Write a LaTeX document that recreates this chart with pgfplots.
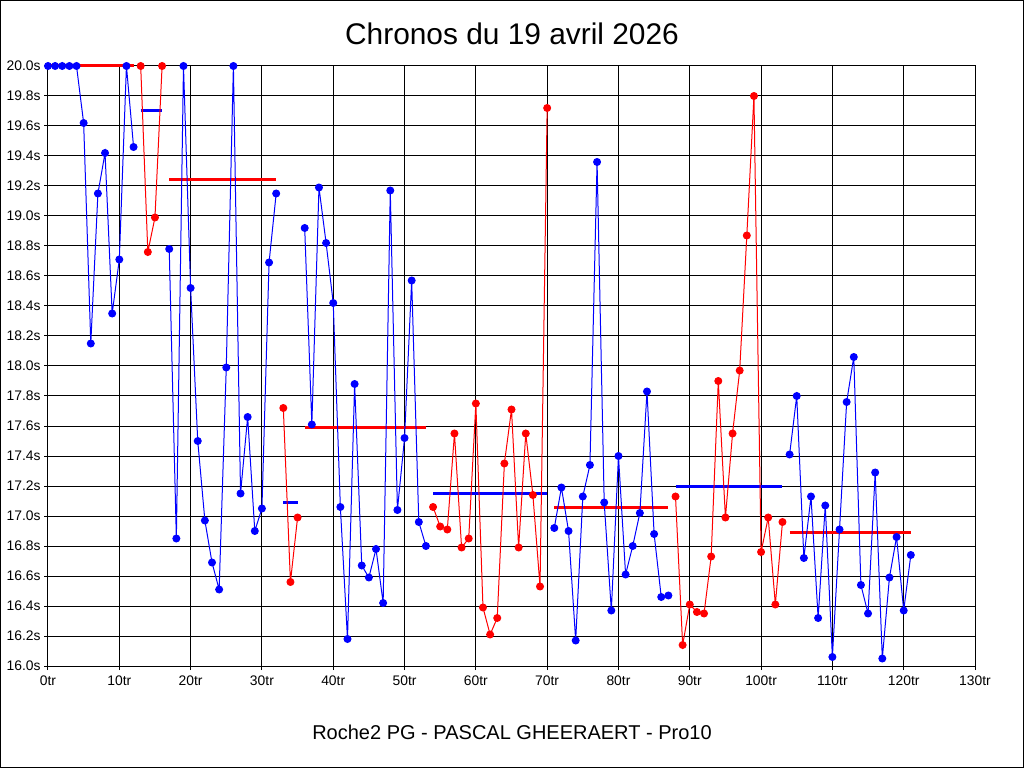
\documentclass[border=0pt]{standalone}
\usepackage{pgfplots}
\pgfplotsset{compat=1.18}
\usepackage{fontspec}
\setmainfont{Liberation Sans}
\definecolor{pblue}{RGB}{0,0,255}
\definecolor{pred}{RGB}{255,0,0}
\begin{document}
\begin{tikzpicture}
\useasboundingbox (0,0) rectangle (768pt,576pt);
\fill[white] (0,0) rectangle (768pt,576pt);
\pgfplotsset{
  common/.style={
    scale only axis, width=695.25pt, height=450pt,
    at={(36pt,76.5pt)}, anchor=south west,
    xmin=0, xmax=130, ymin=16, ymax=20,
    xtick={0,10,...,130},
    ytick={16.0,16.2,16.4,16.6,16.8,17.0,17.2,17.4,17.6,17.8,18.0,18.2,18.4,18.6,18.8,19.0,19.2,19.4,19.6,19.8,20.0},
    tick align=outside, major tick length=3pt,
    every tick/.style={black, line width=0.75pt},
    axis line style={black, line width=0.75pt},
    /pgf/number format/assume math mode=true,
    tick label style={font=\fontsize{10.4pt}{12pt}\selectfont, black},
    clip=false,
  }
}
\begin{axis}[common,
  xtick pos=bottom, ytick pos=left,
  grid=major, major grid style={black, line width=0.75pt},
  xticklabel={\pgfmathprintnumber{\tick}tr},
  yticklabel={\pgfmathprintnumber[fixed,precision=1,fixed zerofill]{\tick}s},
  xticklabel style={yshift=-1pt},
  yticklabel style={xshift=1pt},
]
% average lines
\addplot[pred, line width=2.25pt] coordinates {(0,20.0) (12,20.0)};
\addplot[pblue, line width=2.25pt] coordinates {(13,19.70) (16,19.70)};
\addplot[pred, line width=2.25pt] coordinates {(17,19.24) (32,19.24)};
\addplot[pblue, line width=2.25pt] coordinates {(33,17.09) (35,17.09)};
\addplot[pred, line width=2.25pt] coordinates {(36,17.59) (53,17.59)};
\addplot[pblue, line width=2.25pt] coordinates {(54,17.15) (70,17.15)};
\addplot[pred, line width=2.25pt] coordinates {(71,17.06) (87,17.06)};
\addplot[pblue, line width=2.25pt] coordinates {(88,17.20) (103,17.20)};
\addplot[pred, line width=2.25pt] coordinates {(104,16.89) (121,16.89)};
% data series
\pgfplotsset{every axis plot/.append style={line width=0.75pt, mark=*, mark size=2.6pt}}
\addplot[pblue, mark options={fill=pblue, draw=pblue}] coordinates {
(0,20.0) (1,20.0) (2,20.0) (3,20.0) (4,20.0) (5,19.62) (6,18.15) (7,19.15) (8,19.42) (9,18.35) (10,18.71) (11,20.0) (12,19.46)};
\addplot[pred, mark options={fill=pred, draw=pred}] coordinates {
(13,20.0) (14,18.76) (15,18.99) (16,20.0)};
\addplot[pblue, mark options={fill=pblue, draw=pblue}] coordinates {
(17,18.78) (18,16.85) (19,20.0) (20,18.52) (21,17.50) (22,16.97) (23,16.69) (24,16.51) (25,17.99) (26,20.0) (27,17.15) (28,17.66) (29,16.90) (30,17.05) (31,18.69) (32,19.15)};
\addplot[pred, mark options={fill=pred, draw=pred}] coordinates {
(33,17.72) (34,16.56) (35,16.99)};
\addplot[pblue, mark options={fill=pblue, draw=pblue}] coordinates {
(36,18.92) (37,17.61) (38,19.19) (39,18.82) (40,18.42) (41,17.06) (42,16.18) (43,17.88) (44,16.67) (45,16.59) (46,16.78) (47,16.42) (48,19.17) (49,17.04) (50,17.52) (51,18.57) (52,16.96) (53,16.80)};
\addplot[pred, mark options={fill=pred, draw=pred}] coordinates {
(54,17.06) (55,16.93) (56,16.91) (57,17.55) (58,16.79) (59,16.85) (60,17.75) (61,16.39) (62,16.21) (63,16.32) (64,17.35) (65,17.71) (66,16.79) (67,17.55) (68,17.14) (69,16.53) (70,19.72)};
\addplot[pblue, mark options={fill=pblue, draw=pblue}] coordinates {
(71,16.92) (72,17.19) (73,16.90) (74,16.17) (75,17.13) (76,17.34) (77,19.36) (78,17.09) (79,16.37) (80,17.40) (81,16.61) (82,16.80) (83,17.02) (84,17.83) (85,16.88) (86,16.46) (87,16.47)};
\addplot[pred, mark options={fill=pred, draw=pred}] coordinates {
(88,17.13) (89,16.14) (90,16.41) (91,16.36) (92,16.35) (93,16.73) (94,17.90) (95,16.99) (96,17.55) (97,17.97) (98,18.87) (99,19.80) (100,16.76) (101,16.99) (102,16.41) (103,16.96)};
\addplot[pblue, mark options={fill=pblue, draw=pblue}] coordinates {
(104,17.41) (105,17.80) (106,16.72) (107,17.13) (108,16.32) (109,17.07) (110,16.06) (111,16.91) (112,17.76) (113,18.06) (114,16.54) (115,16.35) (116,17.29) (117,16.05) (118,16.59) (119,16.86) (120,16.37) (121,16.74)};
\end{axis}
\begin{axis}[common,
  axis lines=none, hide x axis,
  axis y line*=right,
  ytick pos=right, yticklabel pos=right,
  yticklabel={\pgfmathprintnumber[fixed,precision=1,fixed zerofill]{\tick}s},
  yticklabel style={xshift=-1pt},
]
\addplot[draw=none] coordinates {(0,16)};
\end{axis}
\node[font=\fontsize{22.4pt}{26pt}\selectfont] at (384pt,550.5pt) {Chronos du 19 avril 2026};
\node[font=\fontsize{15pt}{18pt}\selectfont] at (384pt,26.5pt) {Roche2 PG - PASCAL GHEERAERT - Pro10};
\draw[black, line width=0.75pt] (0.375pt,0.375pt) rectangle (767.625pt,575.625pt);
\end{tikzpicture}
\end{document}
